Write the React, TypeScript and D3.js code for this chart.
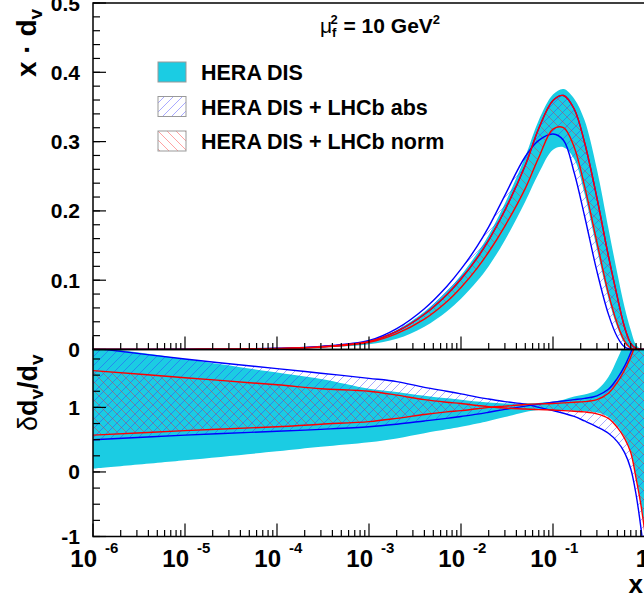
import React from "react";
import * as d3 from "d3";

// ---- data ----
const X_VALUES = [1e-6, 1e-5, 1e-4, 3e-4, 1e-3, 2e-3, 4e-3, 7e-3, 0.01, 0.015, 0.02, 0.03, 0.05, 0.07, 0.1, 0.13, 0.17, 0.22, 0.3, 0.4, 0.5, 0.6, 0.7, 0.8, 0.9, 1.0];

// top panel: x * d_v
const HERA_UP = [0.00003, 0.00028, 0.0016, 0.0042, 0.012, 0.028, 0.0545, 0.0841, 0.1072, 0.1388, 0.1652, 0.2108, 0.2785, 0.3307, 0.3678, 0.376, 0.362, 0.331, 0.26, 0.175, 0.11, 0.061, 0.028, 0.0065, 0.001, 0];
const HERA_LO = [0.00001, 0.00015, 0.001, 0.0028, 0.0075, 0.0155, 0.033, 0.055, 0.0732, 0.0988, 0.1203, 0.1577, 0.2137, 0.2543, 0.2883, 0.292, 0.275, 0.225, 0.145, 0.074, 0.032, 0.009, 0.001, 0, 0, 0];
const ABS_A = [0.00003, 0.0003, 0.0017, 0.0045, 0.013, 0.0302, 0.0589, 0.091, 0.1159, 0.149, 0.1769, 0.2225, 0.2785, 0.3017, 0.311, 0.302, 0.255, 0.193, 0.113, 0.051, 0.018, 0.0036, 0.0005, 0, 0, 0];
const ABS_B = [0.00003, 0.00025, 0.0015, 0.004, 0.0115, 0.026, 0.0508, 0.0791, 0.1017, 0.1321, 0.1578, 0.201, 0.2659, 0.319, 0.3593, 0.3665, 0.347, 0.299, 0.219, 0.135, 0.076, 0.032, 0.009, 0.0015, 0.0002, 0];
const NORM_U = [0.00003, 0.00025, 0.0015, 0.004, 0.0115, 0.026, 0.0508, 0.0791, 0.1017, 0.1321, 0.1578, 0.201, 0.2659, 0.319, 0.3593, 0.3665, 0.347, 0.299, 0.219, 0.135, 0.076, 0.032, 0.009, 0.0015, 0.0002, 0];
const NORM_M = [0.00002, 0.0002, 0.0013, 0.0035, 0.0105, 0.023, 0.0438, 0.0689, 0.0895, 0.1175, 0.1407, 0.1781, 0.2325, 0.277, 0.318, 0.32, 0.292, 0.236, 0.155, 0.081, 0.037, 0.012, 0.002, 0.0003, 0, 0];

// bottom panel: delta d_v / d_v
const R_HERA_UP = [1.95, 1.75, 1.54, 1.44, 1.29, 1.24, 1.18, 1.14, 1.12, 1.09, 1.075, 1.06, 1.065, 1.07, 1.09, 1.12, 1.17, 1.2, 1.27, 1.47, 1.75, 2.0, 2.2, 2.4, 2.5, 2.6];
const R_HERA_LO = [0.05, 0.18, 0.32, 0.39, 0.46, 0.52, 0.6, 0.66, 0.7, 0.75, 0.79, 0.85, 0.93, 0.96, 0.96, 0.955, 0.95, 0.94, 0.92, 0.85, 0.71, 0.54, 0.32, -0.08, -0.48, -0.93];
const R_ABS_A = [1.92, 1.75, 1.6, 1.53, 1.45, 1.4, 1.31, 1.25, 1.21, 1.16, 1.13, 1.09, 1.05, 1.0, 0.95, 0.91, 0.86, 0.79, 0.7, 0.6, 0.47, 0.3, 0.05, -0.35, -0.85, -1.4];
const R_ABS_B = [0.5, 0.57, 0.63, 0.66, 0.7, 0.74, 0.79, 0.83, 0.86, 0.895, 0.925, 0.97, 1.02, 1.05, 1.08, 1.1, 1.12, 1.14, 1.18, 1.28, 1.45, 1.64, 1.85, 2.05, 2.2, 2.35];
const R_NORM_1 = [1.57, 1.46, 1.35, 1.29, 1.25, 1.19, 1.12, 1.08, 1.06, 1.03, 1.01, 0.99, 0.975, 0.965, 0.96, 0.95, 0.94, 0.93, 0.9, 0.83, 0.69, 0.52, 0.3, -0.1, -0.5, -0.95];
const R_NORM_2 = [0.57, 0.64, 0.7, 0.74, 0.78, 0.83, 0.89, 0.93, 0.95, 0.98, 1.0, 1.02, 1.045, 1.055, 1.06, 1.07, 1.08, 1.09, 1.12, 1.22, 1.39, 1.58, 1.78, 2.0, 2.2, 2.4];

const X_EXPONENTS = [-6, -5, -4, -3, -2, -1, 0];
const TOP_MAJOR = [0, 0.1, 0.2, 0.3, 0.4, 0.5];
const TOP_LABELS = ["0", "0.1", "0.2", "0.3", "0.4", "0.5"];
const BOT_MAJOR = [-1, 0, 1];
const BOT_LABELS = ["-1", "0", "1"];
const LEGEND = ["HERA DIS", "HERA DIS + LHCb abs", "HERA DIS + LHCb norm"];

// ---- layout ----
const W = 644;
const H = 606;
const L = 93;
const R = 645;
const TOP = 3;
const MID = 349.5;
const BOT = 536.5;
const FONT = "'Liberation Sans', Arial, Helvetica, sans-serif";
const CYAN = "#1bcce3";

const xScale = d3.scaleLog().domain([1e-6, 1]).range([L, R]);
const yTop = d3.scaleLinear().domain([0, 0.5]).range([MID, TOP]);
const yBot = d3.scaleLinear().domain([-1, 1.897]).range([BOT, MID]);
const CURVE = d3.curveCatmullRom.alpha(0.5);

type P = { x: number; lo: number; hi: number };
const band = (lo: number[], hi: number[]): P[] => X_VALUES.map((x, i) => ({ x, lo: lo[i], hi: hi[i] }));

function areaPath(data: P[], y: d3.ScaleLinear<number, number>) {
  return d3
    .area<P>()
    .x((d) => xScale(d.x))
    .y0((d) => y(d.lo))
    .y1((d) => y(d.hi))
    .curve(CURVE)(data) as string;
}
function linePath(vals: number[], y: d3.ScaleLinear<number, number>) {
  return d3
    .line<number>()
    .x((_, i) => xScale(X_VALUES[i]))
    .y((d) => y(d))
    .curve(CURVE)(vals) as string;
}

function XTicks({ y0 }: { y0: number }) {
  const out: React.ReactNode[] = [];
  for (let e = -6; e <= 0; e++) {
    const base = Math.pow(10, e);
    out.push(<line key={`M${e}`} x1={xScale(base)} x2={xScale(base)} y1={y0} y2={y0 - 13} stroke="#000" strokeWidth={1.2} />);
    if (e < 0) {
      for (let m = 2; m <= 9; m++) {
        const v = m * base;
        out.push(<line key={`m${e}${m}`} x1={xScale(v)} x2={xScale(v)} y1={y0} y2={y0 - 6.5} stroke="#000" strokeWidth={1.2} />);
      }
    }
  }
  return <g>{out}</g>;
}

function YTicks({ scale, major, minor }: { scale: d3.ScaleLinear<number, number>; major: number[]; minor: number[] }) {
  return (
    <g>
      {minor.map((v, i) => (
        <line key={`n${i}`} x1={L} x2={L + 7} y1={scale(v)} y2={scale(v)} stroke="#000" strokeWidth={1.2} />
      ))}
      {major.map((v, i) => (
        <line key={`j${i}`} x1={L} x2={L + 13} y1={scale(v)} y2={scale(v)} stroke="#000" strokeWidth={1.2} />
      ))}
    </g>
  );
}

export default function App() {
  const topMinor = d3.range(0, 0.5001, 0.02);
  const botMinor = d3.range(-1, 1.8, 0.25);

  const topHera = band(HERA_LO, HERA_UP);
  const topAbs = band(ABS_A, ABS_B);
  const topNorm = band(NORM_M, NORM_U);
  const botHera = band(R_HERA_LO, R_HERA_UP);
  const botAbs = band(R_ABS_B, R_ABS_A);
  const botNorm = band(R_NORM_2, R_NORM_1);

  const lw = 1.4;

  return (
    <svg width={W} height={H} style={{ position: "absolute", left: 0, top: 0, background: "#fff" }} fontFamily={FONT}>
      <defs>
        <clipPath id="clipTop">
          <rect x={L} y={TOP} width={R - L} height={MID - TOP} />
        </clipPath>
        <clipPath id="clipBot">
          <rect x={L} y={MID} width={R - L} height={BOT - MID} />
        </clipPath>
        <pattern id="hatchBlue" patternUnits="userSpaceOnUse" width={9} height={9}>
          <path d="M-2,2 L2,-2 M0,9 L9,0 M7,11 L11,7" stroke="#3030ff" strokeWidth={0.7} strokeOpacity={0.6} />
        </pattern>
        <pattern id="hatchRed" patternUnits="userSpaceOnUse" width={9} height={9}>
          <path d="M-2,7 L2,11 M0,0 L9,9 M7,-2 L11,2" stroke="#ff2020" strokeWidth={0.7} strokeOpacity={0.6} />
        </pattern>
      </defs>
      <rect x={0} y={0} width={W} height={H} fill="#fff" />

      {/* top panel */}
      <g clipPath="url(#clipTop)">
        <path d={areaPath(topHera, yTop)} fill={CYAN} />
        <path d={areaPath(topAbs, yTop)} fill="url(#hatchBlue)" />
        <path d={areaPath(topNorm, yTop)} fill="url(#hatchRed)" />
        <path d={linePath(ABS_A, yTop)} fill="none" stroke="#0000ff" strokeWidth={lw} />
        <path d={linePath(ABS_B, yTop)} fill="none" stroke="#0000ff" strokeWidth={lw} />
        <path d={linePath(NORM_M, yTop)} fill="none" stroke="#ff0000" strokeWidth={lw} />
        <path d={linePath(NORM_U, yTop)} fill="none" stroke="#ff0000" strokeWidth={lw} />
      </g>

      {/* bottom panel */}
      <g clipPath="url(#clipBot)">
        <path d={areaPath(botHera, yBot)} fill={CYAN} />
        <path d={areaPath(botAbs, yBot)} fill="url(#hatchBlue)" />
        <path d={areaPath(botNorm, yBot)} fill="url(#hatchRed)" />
        <path d={linePath(R_ABS_A, yBot)} fill="none" stroke="#0000ff" strokeWidth={lw} />
        <path d={linePath(R_ABS_B, yBot)} fill="none" stroke="#0000ff" strokeWidth={lw} />
        <path d={linePath(R_NORM_1, yBot)} fill="none" stroke="#ff0000" strokeWidth={lw} />
        <path d={linePath(R_NORM_2, yBot)} fill="none" stroke="#ff0000" strokeWidth={lw} />
      </g>

      {/* frames and ticks */}
      <rect x={L} y={TOP} width={R - L} height={MID - TOP} fill="none" stroke="#000" strokeWidth={1.5} />
      <rect x={L} y={MID} width={R - L} height={BOT - MID} fill="none" stroke="#000" strokeWidth={1.5} />
      <XTicks y0={MID} />
      <XTicks y0={BOT} />
      <YTicks scale={yTop} major={TOP_MAJOR} minor={topMinor} />
      <YTicks scale={yBot} major={BOT_MAJOR} minor={botMinor} />

      {/* y tick labels */}
      {TOP_MAJOR.map((v, i) => (
        <text key={`tl${i}`} x={80} y={yTop(v) + 7.5} textAnchor="end" fontSize={21} fontWeight="bold">
          {TOP_LABELS[i]}
        </text>
      ))}
      {BOT_MAJOR.map((v, i) => (
        <text key={`bl${i}`} x={80} y={yBot(v) + 7.5} textAnchor="end" fontSize={21} fontWeight="bold">
          {BOT_LABELS[i]}
        </text>
      ))}

      {/* x tick labels */}
      {X_EXPONENTS.map((e) => {
        const px = xScale(Math.pow(10, e));
        if (e === 0) {
          return (
            <text key={`xl${e}`} x={px + 4} y={567} textAnchor="end" fontSize={24} fontWeight="bold">
              1
            </text>
          );
        }
        return (
          <g key={`xl${e}`}>
            <text x={px + 4} y={567} textAnchor="end" fontSize={24} fontWeight="bold">
              10
            </text>
            <text x={px + 12} y={553} fontSize={15} fontWeight="bold">
              {String(e)}
            </text>
          </g>
        );
      })}

      {/* axis titles */}
      <text x={643} y={593} textAnchor="end" fontSize={26} fontWeight="bold">
        x
      </text>
      <text transform="translate(36,77) rotate(-90)" fontSize={28} fontWeight="bold">
        x · d<tspan fontSize={19} dy={6}>v</tspan>
      </text>
      <text transform="translate(37,431) rotate(-90)" fontSize={27} fontWeight="bold">
        <tspan fontWeight="normal">δ</tspan>d<tspan fontSize={19} dy={6}>v</tspan>
        <tspan dy={-6}>/d</tspan>
        <tspan fontSize={19} dy={6}>v</tspan>
      </text>

      {/* scale label */}
      <text x={320} y={33} fontSize={21} fontWeight="bold">
        <tspan fontWeight="normal">μ</tspan>
        <tspan fontSize={13} dy={4}>f</tspan>
        <tspan fontSize={13} dx={-6} dy={-13}>2</tspan>
        <tspan dy={9}> = 10 GeV</tspan>
        <tspan fontSize={13} dy={-9}>2</tspan>
      </text>

      {/* legend */}
      {LEGEND.map((label, i) => {
        const y = 62 + i * 34.5;
        const fill = i === 0 ? CYAN : i === 1 ? "url(#hatchBlue)" : "url(#hatchRed)";
        return (
          <g key={`lg${i}`}>
            <rect x={158} y={y} width={28} height={20} fill="#fff" />
            <rect x={158} y={y} width={28} height={20} fill={fill} stroke="#999" strokeWidth={1} />
            <text x={201} y={y + 18} fontSize={21.5} fontWeight="bold">
              {label}
            </text>
          </g>
        );
      })}
    </svg>
  );
}
